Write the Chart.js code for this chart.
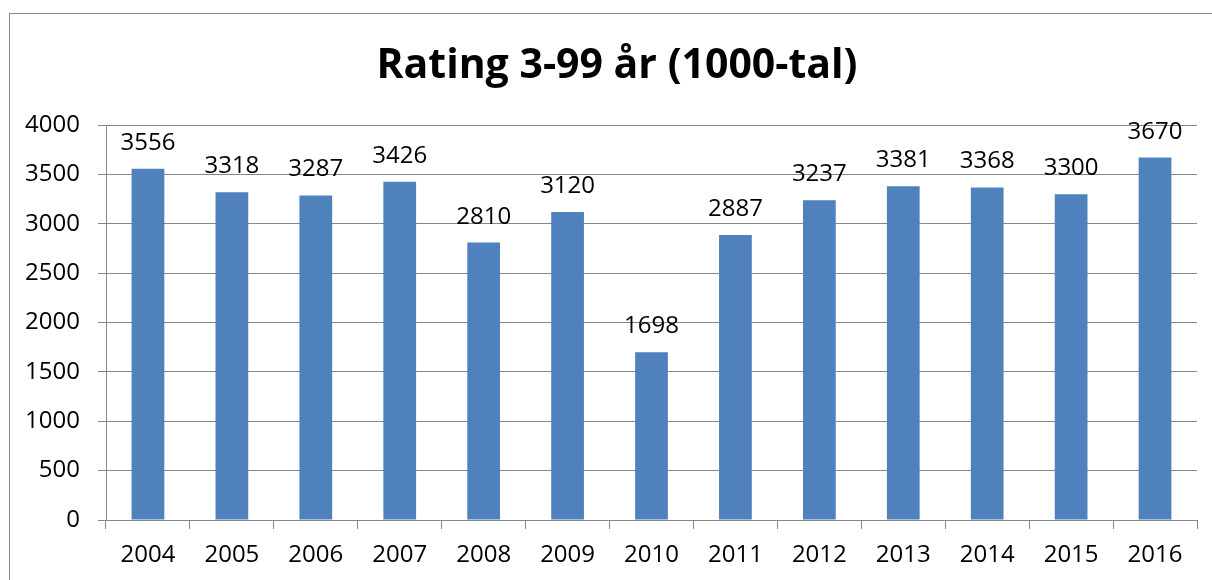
<!DOCTYPE html>
<html>
<head>
<meta charset="utf-8">
<script src="https://cdn.jsdelivr.net/npm/chart.js@4/dist/chart.umd.min.js"></script>
<style>
  html, body { margin: 0; padding: 0; background: #fff; }
  #wrap { width: 1212px; height: 580px; position: relative; }
</style>
</head>
<body>
<div id="wrap"><canvas id="chart"></canvas></div>
<script>
'use strict';

const years = ['2004', '2005', '2006', '2007', '2008', '2009', '2010', '2011', '2012', '2013', '2014', '2015', '2016'];
const rating = [3556, 3318, 3287, 3426, 2810, 3120, 1698, 2887, 3237, 3381, 3368, 3300, 3670];
const yTicks = [0, 500, 1000, 1500, 2000, 2500, 3000, 3500, 4000];

const titleText = 'Rating 3-99 år (1000-tal)';
const fontFamily = '"Open Sans", "Noto Sans", sans-serif';
const labelSize = 24;

// outer frame + title, like the Excel chart
const frame = {
    id: 'frame',
    beforeDraw(chart) {
        const ctx = chart.ctx;
        ctx.save();
        ctx.fillStyle = '#fff';
        ctx.fillRect(0, 0, chart.width, chart.height);
        ctx.strokeStyle = '#878787';
        ctx.lineWidth = 1;
        ctx.strokeRect(9.5, 13.5, chart.width + 20, chart.height + 20);

        // excel centres the title on the whole chart frame, not the plot
        ctx.font = 'bold 41px ' + fontFamily;
        ctx.fillStyle = '#000';
        ctx.textAlign = 'center';
        ctx.textBaseline = 'alphabetic';
        ctx.fillText(titleText, 617, 78);
        ctx.restore();
    }
};

// value above every bar
const barLabels = {
    id: 'barLabels',
    afterDatasetsDraw(chart) {
        const ctx = chart.ctx;
        const meta = chart.getDatasetMeta(0);
        ctx.save();
        ctx.font = labelSize + 'px ' + fontFamily;
        ctx.fillStyle = '#000';
        ctx.textAlign = 'center';
        ctx.textBaseline = 'alphabetic';
        meta.data.forEach((bar, i) => {
            ctx.fillText(String(rating[i]), bar.x, bar.y - 19);
        });
        ctx.restore();
    }
};

new Chart(document.getElementById('chart'), {
    type: 'bar',
    data: {
        labels: years,
        datasets: [{
            data: rating,
            backgroundColor: '#4F81BD',
            borderWidth: 0,
            barPercentage: 0.39,
            categoryPercentage: 1
        }]
    },
    options: {
        responsive: true,
        maintainAspectRatio: false,
        animation: false,
        layout: { padding: { left: 0, right: 15, top: 125, bottom: 0 } },
        plugins: {
            legend: { display: false },
            tooltip: { enabled: false },
            title: { display: false }
        },
        scales: {
            x: {
                grid: {
                    drawOnChartArea: false,
                    color: '#868686',
                    tickLength: 9,
                    offset: true
                },
                border: { color: '#868686' },
                ticks: {
                    color: '#000',
                    font: { family: fontFamily, size: labelSize },
                    padding: 12,
                    maxRotation: 0
                },
                afterFit(scale) { scale.height = 60; }
            },
            y: {
                min: 0,
                max: 4000,
                grid: { color: '#868686', tickLength: 8 },
                border: { color: '#868686' },
                afterBuildTicks(scale) {
                    scale.ticks = yTicks.map(v => ({ value: v }));
                },
                ticks: {
                    color: '#000',
                    font: { family: fontFamily, size: labelSize },
                    padding: 18,
                    callback: v => String(v)
                },
                afterFit(scale) { scale.width = 106; }
            }
        }
    },
    plugins: [frame, barLabels]
});
</script>
</body>
</html>
